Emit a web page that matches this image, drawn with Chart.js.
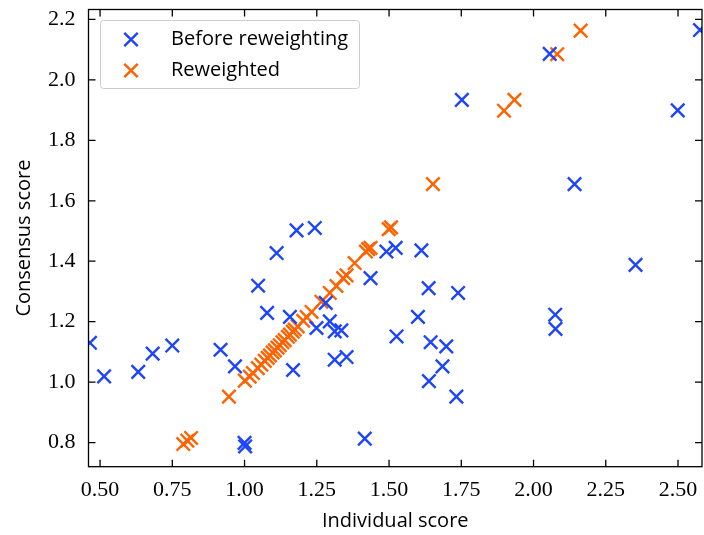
<!DOCTYPE html>
<html>
<head>
<meta charset="utf-8">
<script src="https://cdn.jsdelivr.net/npm/chart.js@4.4.1/dist/chart.umd.min.js"></script>
<style>
  html, body { margin: 0; padding: 0; background: #fff; overflow: hidden; }
  canvas { display: block; }
</style>
</head>
<body>
<canvas id="scoreChart" width="704" height="535"></canvas>
<script>
// values
const beforeX = [0.465, 0.514, 0.632, 0.682, 0.750, 0.917, 0.967, 1.000, 1.002, 1.047,
  1.078, 1.111, 1.180, 1.243, 1.157, 1.168, 1.281, 1.249, 1.295, 1.312,
  1.335, 1.312, 1.353, 1.436, 1.491, 1.523, 1.612, 1.637, 1.739, 1.600,
  1.526, 1.644, 1.698, 1.685, 1.638, 1.733, 1.416, 1.752, 2.056, 2.142,
  2.499, 2.576, 2.353, 2.075, 2.076];
const beforeY = [1.130, 1.019, 1.034, 1.094, 1.121, 1.107, 1.052, 0.799, 0.787, 1.319,
  1.229, 1.427, 1.502, 1.510, 1.216, 1.040, 1.262, 1.179, 1.201, 1.168,
  1.171, 1.074, 1.083, 1.344, 1.432, 1.444, 1.436, 1.311, 1.295, 1.216,
  1.151, 1.132, 1.118, 1.052, 1.003, 0.952, 0.813, 1.934, 2.086, 1.655,
  1.899, 2.165, 1.388, 1.223, 1.176];

const reweightedX = [0.788, 0.802, 0.815, 0.946, 1.001, 1.018, 1.029, 1.046, 1.058, 1.070,
  1.080, 1.088, 1.097, 1.105, 1.114, 1.122, 1.131, 1.139, 1.150, 1.157,
  1.167, 1.174, 1.184, 1.203, 1.215, 1.232, 1.266, 1.295, 1.318, 1.341,
  1.353, 1.381, 1.420, 1.428, 1.436, 1.499, 1.507, 1.652, 1.898, 1.934,
  2.082, 2.163];
const reweightedY = [0.795, 0.806, 0.815, 0.952, 1.005, 1.018, 1.030, 1.046, 1.058, 1.070,
  1.080, 1.088, 1.098, 1.105, 1.114, 1.122, 1.132, 1.139, 1.150, 1.157,
  1.167, 1.174, 1.184, 1.203, 1.215, 1.232, 1.266, 1.295, 1.318, 1.344,
  1.353, 1.394, 1.432, 1.440, 1.444, 1.506, 1.512, 1.655, 1.898, 1.934,
  2.085, 2.163];

const seriesNames = ["Before reweighting", "Reweighted"];
const xTitle = "Individual score";
const yTitle = "Consensus score";

const blueColor = "#1d45fa";
const orangeColor = "#ff6200";
const markerRadius = 9.5;
const markerWidth = 2.4;
const sansFont = "Open Sans";

function toPoints(xs, ys) {
  return xs.map((x, i) => ({ x: x, y: ys[i] }));
}

// box, inward ticks on all four sides (matplotlib look)
const framePlugin = {
  id: "frame",
  afterDraw(chart) {
    const { ctx, chartArea: a, scales } = chart;
    ctx.save();
    ctx.strokeStyle = "#000";
    ctx.lineWidth = 1.3;
    ctx.strokeRect(a.left, a.top, a.right - a.left, a.bottom - a.top);
    ctx.beginPath();
    scales.x.ticks.forEach((t) => {
      const px = scales.x.getPixelForValue(t.value);
      ctx.moveTo(px, a.bottom);
      ctx.lineTo(px, a.bottom - 7);
      ctx.moveTo(px, a.top);
      ctx.lineTo(px, a.top + 7);
    });
    scales.y.ticks.forEach((t) => {
      const py = scales.y.getPixelForValue(t.value);
      ctx.moveTo(a.left, py);
      ctx.lineTo(a.left + 7, py);
      ctx.moveTo(a.right, py);
      ctx.lineTo(a.right - 7, py);
    });
    ctx.stroke();
    ctx.restore();
  },
};

// legend box in the upper left corner
const legendPlugin = {
  id: "boxLegend",
  afterDraw(chart) {
    const ctx = chart.ctx;
    const colors = [blueColor, orangeColor];
    ctx.save();
    ctx.beginPath();
    ctx.roundRect(100.5, 20.5, 259, 68, 3);
    ctx.fillStyle = "rgba(255,255,255,0.8)";
    ctx.fill();
    ctx.strokeStyle = "#cccccc";
    ctx.lineWidth = 1;
    ctx.stroke();
    ctx.font = "20px '" + sansFont + "'";
    ctx.textBaseline = "middle";
    ctx.fillStyle = "#000";
    seriesNames.forEach((name, i) => {
      const y = 39.5 + i * 31;
      ctx.strokeStyle = colors[i];
      ctx.lineWidth = markerWidth;
      Chart.helpers.drawPoint(ctx, { pointStyle: "crossRot", radius: markerRadius, borderWidth: markerWidth, rotation: 0 }, 131, y);
      ctx.fillText(name, 171, y);
    });
    ctx.restore();
  },
};

const ctx = document.getElementById("scoreChart").getContext("2d");

new Chart(ctx, {
  type: "scatter",
  data: {
    datasets: [
      {
        label: seriesNames[0],
        data: toPoints(beforeX, beforeY),
        pointStyle: "crossRot",
        pointRadius: markerRadius,
        pointHoverRadius: markerRadius,
        pointBorderWidth: markerWidth,
        borderColor: blueColor,
        backgroundColor: blueColor,
        clip: 0,
      },
      {
        label: seriesNames[1],
        data: toPoints(reweightedX, reweightedY),
        pointStyle: "crossRot",
        pointRadius: markerRadius,
        pointHoverRadius: markerRadius,
        pointBorderWidth: markerWidth,
        borderColor: orangeColor,
        backgroundColor: orangeColor,
        clip: 0,
      },
    ],
  },
  options: {
    responsive: false,
    animation: false,
    layout: { autoPadding: false, padding: { top: 9.5, right: 2, left: 0, bottom: 0 } },
    plugins: {
      legend: { display: false },
      tooltip: { enabled: false },
    },
    scales: {
      x: {
        type: "linear",
        min: 0.46,
        max: 2.583,
        afterFit: (s) => {
          s.height = 68.3;
          s.paddingLeft = 0;
          s.paddingRight = 0;
        },
        grid: { display: false, drawTicks: false },
        border: { display: false },
        ticks: {
          stepSize: 0.25,
          includeBounds: false,
          padding: 10,
          color: "#000",
          font: { family: "Liberation Serif", size: 22 },
          callback: (v) => Number(v).toFixed(2),
        },
        title: {
          display: true,
          text: xTitle,
          color: "#000",
          font: { family: sansFont, size: 20 },
          padding: { top: 0, bottom: 2 },
        },
      },
      y: {
        type: "linear",
        min: 0.72,
        max: 2.233,
        afterFit: (s) => {
          s.width = 88.5;
          s.paddingTop = 0;
          s.paddingBottom = 0;
        },
        grid: { display: false, drawTicks: false },
        border: { display: false },
        ticks: {
          stepSize: 0.2,
          includeBounds: false,
          padding: 13,
          color: "#000",
          font: { family: "Liberation Serif", size: 22 },
          callback: (v) => Number(v).toFixed(1),
        },
        title: {
          display: true,
          text: yTitle,
          color: "#000",
          font: { family: sansFont, size: 20 },
          padding: { top: 12, bottom: 0 },
        },
      },
    },
  },
  plugins: [framePlugin, legendPlugin],
});
</script>
</body>
</html>
